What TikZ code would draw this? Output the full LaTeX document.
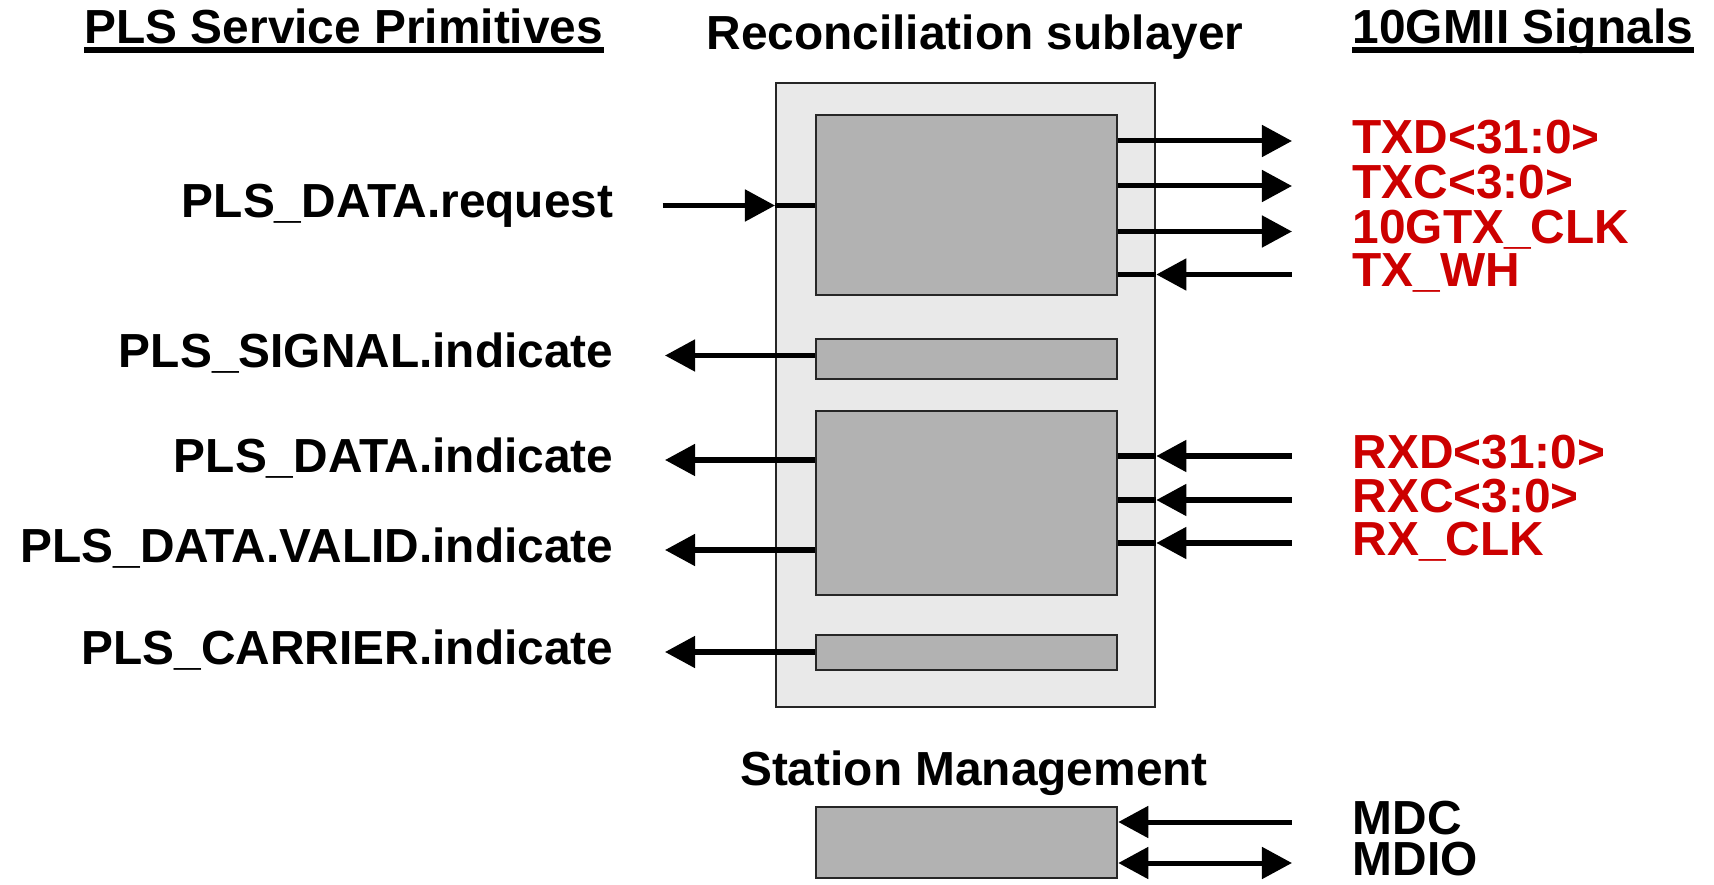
\documentclass[tikz,border=0pt]{standalone}
\usepackage{fontspec}
\setmainfont{Liberation Sans}
\usetikzlibrary{arrows.meta}
\definecolor{sigred}{HTML}{CC0000}
\definecolor{rsgray}{HTML}{E9E9E9}
\definecolor{blkgray}{HTML}{B2B2B2}

\begin{document}
\begin{tikzpicture}[x=0.01cm, y=-0.01cm,
    font=\fontsize{13.6}{16}\selectfont\bfseries,
    lbl/.style={inner sep=0pt, text height=0.688em, text depth=0pt},
    redlbl/.style={lbl, text=sigred, anchor=west},
    ttl/.style={inner sep=0pt, anchor=base},
    rsbox/.style={draw=black!85, line width=0.6pt, fill=rsgray, anchor=north west, inner sep=0pt},
    blk/.style={draw=black!85, line width=0.6pt, fill=blkgray, anchor=north west, inner sep=0pt, minimum width=3.01cm},
    sig/.style={line width=0.05cm},
    tip/.style={-{Triangle[length=0.3cm, width=0.31cm]}},
    tips/.style={{Triangle[length=0.3cm, width=0.31cm]}-{Triangle[length=0.3cm, width=0.31cm]}}]
    \useasboundingbox (0,0) rectangle (1714,885);
    % titles
    \node (plstitle) [ttl, anchor=base west] at (84,44) {PLS Service Primitives\ };
    \node (rstitle) [ttl] at (975,50) {Reconciliation sublayer};
    \node (gmiititle) [ttl, anchor=base west] at (1352,44) {10GMII Signals\ };
    \node (statitle) [ttl] at (974,785) {Station Management};
    \draw[sig] ([yshift=-0.06cm]plstitle.base west) -- ([yshift=-0.06cm]plstitle.base east);
    \draw[sig] ([yshift=-0.06cm]gmiititle.base west) -- ([yshift=-0.06cm]gmiititle.base east);
    % boxes
    \node (rs) [rsbox, minimum width=3.79cm, minimum height=6.24cm] at (775,82) {};
    \node (txblk) [blk, minimum height=1.80cm] at (815,114) {};
    \node (sigblk) [blk, minimum height=0.40cm] at (815,338) {};
    \node (rxblk) [blk, minimum height=1.84cm] at (815,410) {};
    \node (crsblk) [blk, minimum height=0.35cm] at (815,634) {};
    \node (stablk) [blk, minimum height=0.71cm] at (815,806) {};
    % left labels
    \node (req) [lbl, anchor=east] at (614,205.5) {PLS\_DATA.request};
    \node (sigind) [lbl, anchor=east] at (614,355.5) {PLS\_SIGNAL.indicate};
    \node (dataind) [lbl, anchor=east] at (614,460) {PLS\_DATA.indicate};
    \node (validind) [lbl, anchor=east] at (614,550) {PLS\_DATA.VALID.indicate};
    \node (crsind) [lbl, anchor=east] at (614,652) {PLS\_CARRIER.indicate};
    % right labels
    \node (txd) [redlbl] at (1352,141) {TXD<31:0>};
    \node (txc) [redlbl] at (1352,186) {TXC<3:0>};
    \node (gtxclk) [redlbl] at (1352,231.5) {10GTX\_CLK};
    \node (txwh) [redlbl] at (1352,274.5) {TX\_WH};
    \node (rxd) [redlbl] at (1352,456) {RXD<31:0>};
    \node (rxc) [redlbl] at (1352,500) {RXC<3:0>};
    \node (rxclk) [redlbl] at (1352,543) {RX\_CLK};
    \node (mdc) [lbl, anchor=west] at (1352,822) {MDC};
    \node (mdio) [lbl, anchor=west] at (1352,863) {MDIO};
    % arrows
    \draw[sig, tip] ([xshift=0.485cm]req.east) -- (rs.west |- req.east);
    \draw[sig] (rs.west |- req.east) -- (txblk.west |- req.east);
    \draw[sig, tip] (sigblk.west |- sigind.east) -- ([xshift=0.51cm]sigind.east);
    \draw[sig, tip] (rxblk.west |- dataind.east) -- ([xshift=0.51cm]dataind.east);
    \draw[sig, tip] (rxblk.west |- validind.east) -- ([xshift=0.51cm]validind.east);
    \draw[sig, tip] (crsblk.west |- crsind.east) -- ([xshift=0.51cm]crsind.east);
    \foreach \s in {txd, txc, gtxclk}
        \draw[sig, tip] (txblk.east |- \s.west) -- ([xshift=-0.6cm]\s.west);
    \draw[sig] (txblk.east |- txwh.west) -- (rs.east |- txwh.west);
    \draw[sig, tip] ([xshift=-0.6cm]txwh.west) -- (rs.east |- txwh.west);
    \foreach \s in {rxd, rxc, rxclk} {
        \draw[sig] (rxblk.east |- \s.west) -- (rs.east |- \s.west);
        \draw[sig, tip] ([xshift=-0.6cm]\s.west) -- (rs.east |- \s.west);
    }
    \draw[sig, tip] ([xshift=-0.6cm]mdc.west) -- (stablk.east |- mdc.west);
    \draw[sig, tips] (stablk.east |- mdio.west) -- ([xshift=-0.6cm]mdio.west);
\end{tikzpicture}
\end{document}
